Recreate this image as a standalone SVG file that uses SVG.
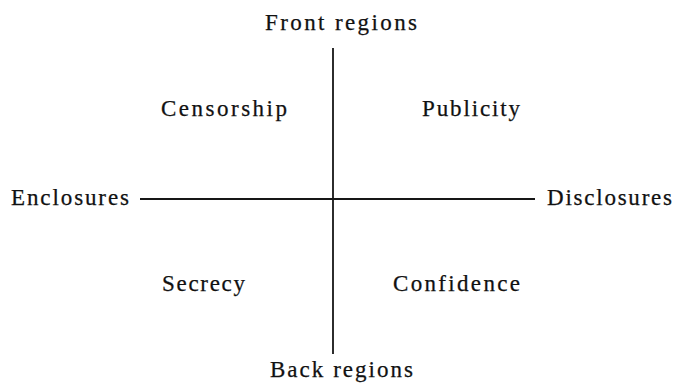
<svg xmlns="http://www.w3.org/2000/svg" width="676" height="387" viewBox="0 0 676 387">
<style>
text{font-family:"Liberation Serif","Times New Roman",serif;font-size:23px;fill:#111111;stroke:#111111;stroke-width:0.25}
.ax{stroke:#161616;stroke-width:1.8;fill:none}
</style>
<rect width="676" height="387" fill="#ffffff"/>
<g id="connectors">
<line class="ax" x1="333" y1="48" x2="333" y2="354"/>
<line class="ax" x1="140" y1="199" x2="535" y2="199"/>
</g>
<g id="front"><text x="265" y="30" textLength="152" lengthAdjust="spacing">Front regions</text></g>
<g id="back"><text x="270" y="377" textLength="143" lengthAdjust="spacing">Back regions</text></g>
<g id="enclosures"><text x="11" y="205" textLength="118" lengthAdjust="spacing">Enclosures</text></g>
<g id="disclosures"><text x="547" y="205" textLength="125" lengthAdjust="spacing">Disclosures</text></g>
<g id="censorship"><text x="161" y="116" textLength="126" lengthAdjust="spacing">Censorship</text></g>
<g id="publicity"><text x="422" y="116" textLength="98" lengthAdjust="spacing">Publicity</text></g>
<g id="secrecy"><text x="162" y="291" textLength="83" lengthAdjust="spacing">Secrecy</text></g>
<g id="confidence"><text x="393" y="291" textLength="127" lengthAdjust="spacing">Confidence</text></g>
</svg>
